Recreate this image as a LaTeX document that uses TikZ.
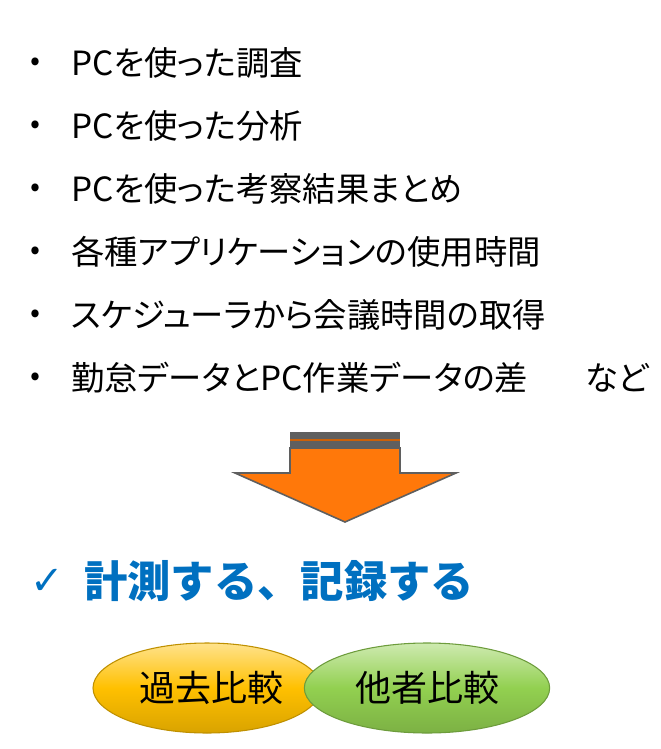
\documentclass[tikz,border=0pt]{standalone}
\usepackage{fontspec}
\setmainfont{Noto Sans CJK JP}[RawFeature=+palt]
\newfontfamily\headfont{Noto Sans CJK JP}
\newfontfamily\symfont{DejaVu Sans}
\usetikzlibrary{shapes, calc}

\definecolor{blueword}{RGB}{0,112,192}
\definecolor{arroworange}{RGB}{255,120,10}
\definecolor{arrowgray}{RGB}{95,95,95}
\definecolor{pastyellow}{RGB}{255,192,0}
\definecolor{otheregreen}{RGB}{146,208,80}

\tikzset{
	item/.style={anchor=west, inner sep=0pt, font=\fontsize{25}{30}\selectfont},
	dot/.style={inner sep=0pt, font=\fontsize{22}{26}\selectfont},
	compare/.style={ellipse, minimum height=67.5pt, draw=#1!75!black, line width=0.8pt,
		top color=#1!45!white, bottom color=#1!85!black, middle color=#1, font=\fontsize{27}{32}\selectfont}
}

\begin{document}
\begin{tikzpicture}[x=0.75pt, y=-0.75pt]
	\useasboundingbox (0,0) rectangle (660,749);

	\node[dot] (d1) at (35,64) {•};
	\node[item] (i1) at (71,63) {PCを使った調査};
	\node[dot] (d2) at (35,127) {•};
	\node[item] (i2) at (71,126) {PCを使った分析};
	\node[dot] (d3) at (35,190) {•};
	\node[item] (i3) at (71,189) {PCを使った考察結果まとめ};
	\node[dot] (d4) at (35,253) {•};
	\node[item] (i4) at (71,252) {各種アプリケーションの使用時間};
	\node[dot] (d5) at (35,316) {•};
	\node[item] (i5) at (71,315) {スケジューラから会議時間の取得};
	\node[dot] (d6) at (35,379) {•};
	\node[item] (i6) at (71,378) {勤怠データとPC作業データの差};
	\node[item] (etc) at (585,378) {など};

	% arrow
	\fill[arrowgray] (290,432) rectangle (400,448);
	\fill[arroworange!80!black] (290,439) rectangle (400,441);
	\draw[arrowgray, line width=1.2pt, fill=arroworange, line join=miter]
		(290,448) -- (400,448) -- (400,473) -- (456,473) -- (345,522) -- (235,473) -- (290,473) -- cycle;

	\node[text=blueword, font=\symfont\bfseries\fontsize{30}{34}\selectfont] (check) at (47,582) {✓};
	\node[text=blueword, anchor=west, inner sep=0pt, font=\headfont\fontsize{32.5}{38}\selectfont\bfseries] (record) at (84,581) {計測する、記録する};

	\node[compare=pastyellow, minimum width=171pt] (past) at (207,688) {\hspace*{6pt}過去比較};
	\node[compare=otheregreen, minimum width=184pt] (other) at (427,688) {他者比較};
\end{tikzpicture}
\end{document}
